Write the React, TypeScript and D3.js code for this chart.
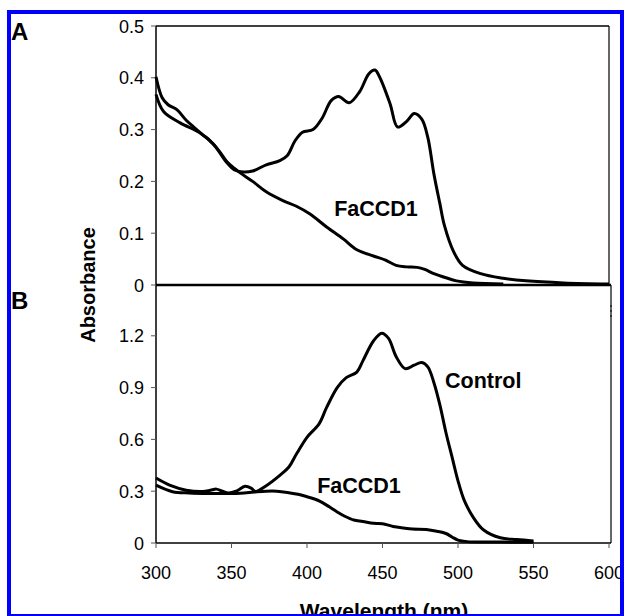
import React from "react";
import * as d3 from "d3";

const xTicks = [300, 350, 400, 450, 500, 550, 600];
const yTicksA = [0, 0.1, 0.2, 0.3, 0.4, 0.5];
const yTicksB = [0, 0.3, 0.6, 0.9, 1.2];

const aControlWl = [300, 305, 316, 329, 338, 347, 352, 358, 364, 373, 382, 387, 392, 397, 404, 410, 416, 421, 428, 435, 441, 445, 448, 455, 460, 466, 471, 476, 480, 484, 488, 491, 497, 503, 515, 530, 545, 570, 600];
const aControlAbs = [0.368, 0.335, 0.313, 0.294, 0.272, 0.236, 0.222, 0.218, 0.22, 0.232, 0.24, 0.25, 0.278, 0.295, 0.3, 0.322, 0.356, 0.364, 0.352, 0.374, 0.408, 0.415, 0.402, 0.35, 0.305, 0.316, 0.331, 0.32, 0.285, 0.215, 0.157, 0.115, 0.065, 0.038, 0.022, 0.013, 0.008, 0.004, 0.002];

const aFaWl = [300, 304, 308, 314, 320, 325, 331, 336, 342, 347, 352, 356, 364, 373, 384, 393, 402, 413, 424, 433, 444, 452, 459, 466, 473, 478, 484, 492, 499, 510, 530];
const aFaAbs = [0.402, 0.362, 0.348, 0.338, 0.318, 0.305, 0.29, 0.278, 0.258, 0.238, 0.225, 0.216, 0.2, 0.18, 0.163, 0.152, 0.137, 0.112, 0.089, 0.068, 0.056, 0.048, 0.038, 0.035, 0.034, 0.03, 0.022, 0.014, 0.008, 0.004, 0.002];

const bControlWl = [300, 309, 320, 331, 336, 340, 344, 348, 353, 359, 363, 366, 373, 382, 388, 393, 400, 408, 413, 420, 426, 433, 437, 444, 449.5, 454, 459, 465, 471, 476, 480, 484, 488, 492, 496, 500, 504, 510, 517, 528, 539, 550];
const bControlAbs = [0.376, 0.335, 0.306, 0.298, 0.305, 0.312, 0.3, 0.29, 0.3, 0.328, 0.318, 0.298, 0.332, 0.392, 0.44, 0.515, 0.612, 0.69, 0.785, 0.9, 0.958, 0.99, 1.055, 1.17, 1.215, 1.185, 1.08, 1.01, 1.03, 1.045, 1.02, 0.93, 0.8, 0.64, 0.5, 0.36, 0.25, 0.15, 0.075, 0.03, 0.02, 0.012];

const bFaWl = [300, 311, 322, 334, 345, 356, 365, 373, 380, 387, 394, 400, 405, 409, 415, 420, 425, 431, 437, 444, 450, 457, 464, 470, 479, 486, 492, 496, 500, 506, 520, 535, 550];
const bFaAbs = [0.335, 0.297, 0.29, 0.287, 0.287, 0.288, 0.295, 0.3, 0.3, 0.293, 0.282, 0.268, 0.255, 0.24, 0.208, 0.18, 0.155, 0.133, 0.125, 0.114, 0.112, 0.096, 0.087, 0.081, 0.078, 0.068, 0.055, 0.035, 0.017, 0.008, 0.006, 0.005, 0.005];

const FONT = "Arial, 'Liberation Sans', Helvetica, sans-serif";

export default function App() {
  const x = d3.scaleLinear().domain([300, 600]).range([156, 609]);
  const yA = d3.scaleLinear().domain([0, 0.5]).range([285, 26]);
  const yB = d3.scaleLinear().domain([0, 1.5]).range([543, 284]);

  const mk = (ys: d3.ScaleLinear<number, number>) =>
    d3
      .line<[number, number]>()
      .x((d) => x(d[0]))
      .y((d) => ys(d[1]))
      .curve(d3.curveCatmullRom.alpha(0.5));

  const zip = (a: number[], b: number[]) => a.map((v, i) => [v, b[i]] as [number, number]);

  const lineA = mk(yA);
  const lineB = mk(yB);

  return (
    <svg
      width={625}
      height={616}
      style={{ position: "absolute", left: 0, top: 0, background: "#fff" }}
      fontFamily={FONT}
    >
      <rect x={0} y={0} width={625} height={616} fill="#fff" />
      {/* frames */}
      <line x1={156} x2={156} y1={26} y2={543} stroke="#000" strokeWidth={1.5} />
      <line x1={156} x2={609} y1={26} y2={26} stroke="#000" strokeWidth={1.5} />
      <line x1={609} x2={609} y1={26} y2={285} stroke="#000" strokeWidth={1.2} />
      <line x1={156} x2={611} y1={285} y2={285} stroke="#000" strokeWidth={2.5} />
      <line x1={611} x2={611} y1={285} y2={543} stroke="#000" strokeWidth={1.2} />
      <line x1={156} x2={611} y1={543} y2={543} stroke="#000" strokeWidth={1.5} />
      <line x1={611} x2={611} y1={305} y2={320} stroke="#000" strokeWidth={1} strokeDasharray="2,3" />

      {/* A y ticks */}
      {yTicksA.map((t) => (
        <g key={"a" + t}>
          <line x1={151} x2={156} y1={yA(t)} y2={yA(t)} stroke="#555" strokeWidth={1} />
          <text x={144} y={yA(t) + 6.5} textAnchor="end" fontSize={18} fill="#000">
            {t === 0 ? "0" : t.toFixed(1)}
          </text>
        </g>
      ))}
      {/* B y ticks */}
      {yTicksB.map((t) => (
        <g key={"b" + t}>
          <line x1={151} x2={156} y1={yB(t)} y2={yB(t)} stroke="#555" strokeWidth={1} />
          <text x={144} y={yB(t) + 6.5} textAnchor="end" fontSize={18} fill="#000">
            {t === 0 ? "0" : t.toFixed(1)}
          </text>
        </g>
      ))}
      {/* x ticks */}
      {xTicks.map((t) => (
        <g key={"x" + t}>
          <line x1={x(t)} x2={x(t)} y1={543} y2={548} stroke="#555" strokeWidth={1} />
          <text x={x(t)} y={579} textAnchor="middle" fontSize={18} fill="#000">
            {t}
          </text>
        </g>
      ))}

      {/* curves */}
      <path d={lineA(zip(aControlWl, aControlAbs)) || ""} fill="none" stroke="#000" strokeWidth={3} />
      <path d={lineA(zip(aFaWl, aFaAbs)) || ""} fill="none" stroke="#000" strokeWidth={3} />
      <path d={lineB(zip(bControlWl, bControlAbs)) || ""} fill="none" stroke="#000" strokeWidth={3} />
      <path d={lineB(zip(bFaWl, bFaAbs)) || ""} fill="none" stroke="#000" strokeWidth={3} />

      {/* labels */}
      <text x={376} y={216} textAnchor="middle" fontSize={21.5} fontWeight="bold">FaCCD1</text>
      <text x={445} y={388} fontSize={21.5} fontWeight="bold">Control</text>
      <text x={359} y={493} textAnchor="middle" fontSize={21.5} fontWeight="bold">FaCCD1</text>

      <text x={11} y={40} fontSize={24} fontWeight="bold">A</text>
      <text x={11} y={309} fontSize={24} fontWeight="bold">B</text>

      <text
        transform="translate(95,285) rotate(-90)"
        textAnchor="middle"
        fontSize={20}
        fontWeight="bold"
      >
        Absorbance
      </text>
      <text x={384} y={618} textAnchor="middle" fontSize={21} fontWeight="bold">
        Wavelength (nm)
      </text>

      {/* blue border */}
      <rect x={9} y={12} width={613} height={604} fill="none" stroke="#0000ff" strokeWidth={4} />
    </svg>
  );
}
